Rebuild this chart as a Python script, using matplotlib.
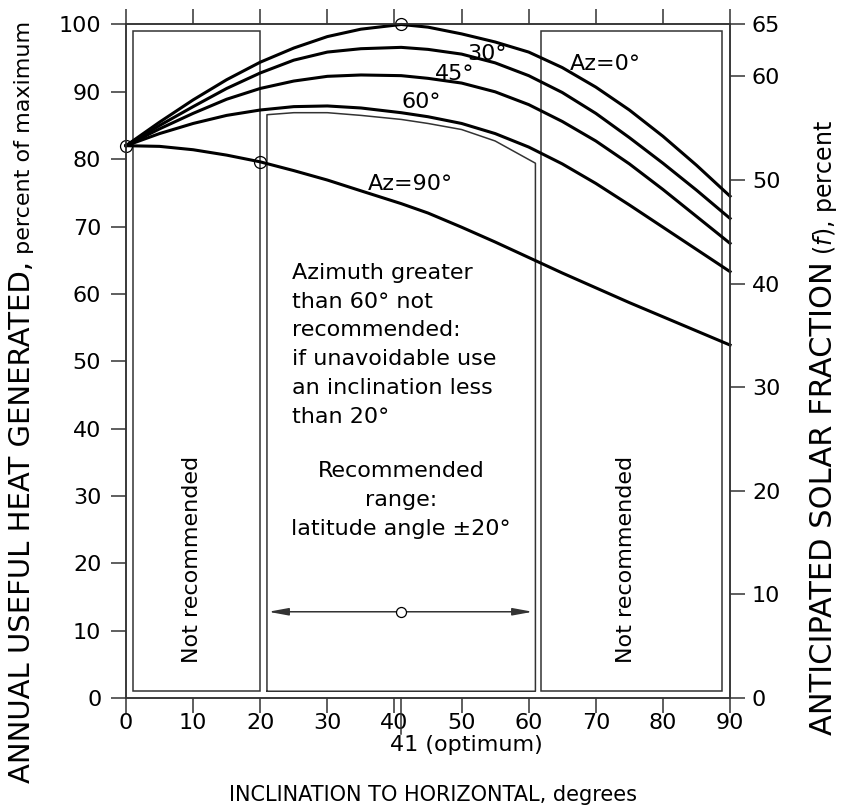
import matplotlib
matplotlib.use("Agg")
import matplotlib.pyplot as plt
from matplotlib.patches import Rectangle, FancyArrowPatch

# Inclination to horizontal (degrees) at which the curves were read
INCLINATION = [0, 5, 10, 15, 20, 25, 30, 35, 41, 45, 50, 55, 60, 65, 70, 75, 80, 85, 90]

# Annual useful heat generated, percent of maximum, one series per azimuth
HEAT_AZ0 = [82.0, 85.5, 88.8, 91.8, 94.4, 96.5, 98.2, 99.3, 100.0, 99.6, 98.6, 97.4, 95.9, 93.6, 90.7, 87.3, 83.4, 79.1, 74.5]
HEAT_AZ30 = [82.0, 85.0, 87.8, 90.5, 92.8, 94.7, 95.9, 96.4, 96.6, 96.3, 95.6, 94.3, 92.4, 89.9, 86.8, 83.2, 79.4, 75.4, 71.2]
HEAT_AZ45 = [82.0, 84.5, 86.8, 88.9, 90.5, 91.6, 92.3, 92.5, 92.4, 92.0, 91.3, 90.0, 88.1, 85.6, 82.7, 79.3, 75.5, 71.5, 67.5]
HEAT_AZ60 = [82.0, 83.8, 85.3, 86.5, 87.3, 87.8, 87.9, 87.6, 86.9, 86.3, 85.3, 83.8, 81.8, 79.3, 76.4, 73.2, 69.9, 66.6, 63.3]
HEAT_AZ90 = [82.0, 81.9, 81.4, 80.6, 79.6, 78.3, 76.9, 75.3, 73.4, 72.0, 69.9, 67.7, 65.4, 63.1, 60.9, 58.7, 56.6, 54.5, 52.4]

CURVE_LABELS = ["Az=0°", "30°", "45°", "60°", "Az=90°"]
LABEL_X = [66.1, 50.9, 46.0, 41.0, 36.1]
LABEL_Y = [93.2, 94.7, 91.8, 87.6, 75.4]

# marked points on the curves
POINT_X = [0, 20, 41]
POINT_Y = [82.0, 79.6, 100.0]

# "not recommended" zones and recommended range (degrees)
LEFT_ZONE = (1.0, 20.0)
RIGHT_ZONE = (61.9, 88.8)
ZONE_BOTTOM, ZONE_TOP = 1.0, 99.0
REC_TOP_X = [21, 25, 30, 35, 41, 45, 50, 55, 61]
REC_TOP_Y = [86.6, 86.9, 86.9, 86.5, 85.9, 85.3, 84.4, 82.7, 79.4]
REC_RANGE = (21.2, 60.6)
OPTIMUM = 41

# right axis: anticipated solar fraction, percent
FRACTION_TICKS = [0, 10, 20, 30, 40, 50, 60, 65]

EDGE = "#333333"

fig = plt.figure(figsize=(8.48, 8.10), dpi=100)
ax = fig.add_axes([0.1486, 0.1383, 0.7123, 0.8315])
ax.set_xlim(0, 90)
ax.set_ylim(0, 100)

# zones
for x0, x1 in [LEFT_ZONE, RIGHT_ZONE]:
    ax.add_patch(Rectangle((x0, ZONE_BOTTOM), x1 - x0, ZONE_TOP - ZONE_BOTTOM,
                           fill=False, ec=EDGE, lw=1.1))
rec_x = [REC_TOP_X[0]] + REC_TOP_X + [REC_TOP_X[-1], REC_TOP_X[0]]
rec_y = [ZONE_BOTTOM] + REC_TOP_Y + [ZONE_BOTTOM, ZONE_BOTTOM]
ax.plot(rec_x, rec_y, color=EDGE, lw=1.1)

# curves
for series in [HEAT_AZ0, HEAT_AZ30, HEAT_AZ45, HEAT_AZ60, HEAT_AZ90]:
    ax.plot(INCLINATION, series, color="black", lw=2.2, clip_on=False, zorder=3)
for lab, lx, ly in zip(CURVE_LABELS, LABEL_X, LABEL_Y):
    ax.text(lx, ly, lab, fontsize=16, ha="left", va="baseline")

ax.plot(POINT_X, POINT_Y, "o", mfc="none", mec="black", ms=8.6, mew=0.9,
        clip_on=False, zorder=4)

# text in the zones
ax.text(24.7, 64.6, "Azimuth greater\nthan 60° not\nrecommended:\nif unavoidable use\n"
        "an inclination less\nthan 20°", fontsize=16, ha="left", va="top",
        linespacing=1.55)
ax.text(41.0, 24.2, "Recommended\nrange:\nlatitude angle ±20°", fontsize=16,
        ha="center", va="baseline", linespacing=1.55, multialignment="center")
for cx in [9.9, 74.5]:
    ax.text(cx, 5.2, "Not recommended", fontsize=16, rotation=90,
            ha="center", va="bottom")

# recommended range arrow
ax.add_patch(FancyArrowPatch((REC_RANGE[0], 12.8), (REC_RANGE[1], 12.8),
                             arrowstyle="<|-|>,head_length=1.2,head_width=0.22",
                             mutation_scale=10, color=EDGE, lw=1.1,
                             shrinkA=0, shrinkB=0))
ax.plot([OPTIMUM], [12.8], "o", mfc="white", mec="black", ms=7.2, mew=0.9, zorder=4)

# optimum marker below the axis
ax.plot([OPTIMUM, OPTIMUM], [0, -5.3], color=EDGE, lw=1.1, clip_on=False)
ax.text(39.3, -7.0, "41 (optimum)", fontsize=16, ha="left", va="center")

# axes styling
ax.set_xticks(range(0, 91, 10))
ax.set_yticks(range(0, 101, 10))
ax.tick_params(direction="out", length=10.8, width=1.1, color=EDGE,
               labelsize=16)
ax.tick_params(axis="x", top=True, pad=0)
ax.tick_params(axis="y", pad=7)
for sp in ax.spines.values():
    sp.set_color(EDGE)
    sp.set_linewidth(1.1)

ax2 = ax.twinx()
ax2.set_ylim(0, 65)
ax2.set_yticks(FRACTION_TICKS)
ax2.tick_params(direction="out", length=10.8, width=1.1, color=EDGE,
                labelsize=16, pad=5)
for sp in ax2.spines.values():
    sp.set_color(EDGE)
    sp.set_linewidth(1.1)


def vertical_label(x, y_mid, parts):
    # upper-case part is set larger, like the wide tracked capitals of the original
    texts = [fig.text(x, 0, s, fontsize=fs, rotation=90, rotation_mode="anchor",
                      ha="left", va="baseline") for s, fs in parts]
    fig.canvas.draw()
    r = fig.canvas.get_renderer()
    lengths = [t.get_window_extent(r).height / fig.bbox.height for t in texts]
    y = y_mid - sum(lengths) / 2
    for t, ln in zip(texts, lengths):
        t.set_y(y)
        y += ln


vertical_label(0.0354, 0.504, [("ANNUAL USEFUL HEAT GENERATED,", 21),
                               (" percent of maximum", 16)])
vertical_label(0.981, 0.472, [("ANTICIPATED SOLAR FRACTION", 22),
                              (" ($f$), percent", 17)])
fig.text(0.511, 0.0185, "INCLINATION TO HORIZONTAL, degrees",
         ha="center", va="center", fontsize=15)

fig.savefig("out.png", dpi=100)
